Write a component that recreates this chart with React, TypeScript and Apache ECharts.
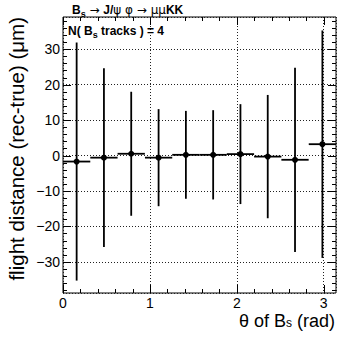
import React, { useEffect, useRef } from 'react';
import * as echarts from 'echarts';

// Histogram bins of theta (rad), 10 bins over [0, pi]
const binCenters = [0.157, 0.471, 0.785, 1.1, 1.414, 1.728, 2.042, 2.356, 2.67, 2.985];
const binHalfWidth = 0.157;
// Mean flight distance (rec-true) in um and its error
const meanValues = [-1.7, -0.6, 0.5, -0.6, 0.2, 0.2, 0.4, -0.3, -1.2, 3.2];
const errValues = [33.6, 25.2, 17.5, 13.7, 12.4, 12.6, 14.1, 17.4, 26.0, 32.1];

// Axis ticks
const xMajorTicks = [0, 1, 2, 3];
const xMinorTicks = [0.2, 0.4, 0.6, 0.8, 1.2, 1.4, 1.6, 1.8, 2.2, 2.4, 2.6, 2.8];
const yMajorTicks = [-30, -20, -10, 0, 10, 20, 30];
const yMinorTicks = [
  -38, -36, -34, -32, -28, -26, -24, -22, -18, -16, -14, -12, -8, -6, -4, -2,
  2, 4, 6, 8, 12, 14, 16, 18, 22, 24, 26, 28, 32, 34, 36, 38,
];

const X_MIN = 0;
const X_MAX = Math.PI;
const Y_MIN = -38.8;
const Y_MAX = 39.1;

const FONT = 'Liberation Sans, Arial, Helvetica, sans-serif';
const SYM = 'DejaVu Sans, Liberation Sans, sans-serif';

export default function App() {
  const ref = useRef<HTMLDivElement>(null);

  useEffect(() => {
    if (!ref.current) return;
    const chart = echarts.init(ref.current, null, { renderer: 'svg' });

    const px = (v: number) => Math.round(v) + 0.5;

    const xTickData = [
      ...xMajorTicks.map((v) => [v, 1]),
      ...xMinorTicks.map((v) => [v, 0]),
    ];
    const yTickData = [
      ...yMajorTicks.map((v) => [0.5, v, 1]),
      ...yMinorTicks.map((v) => [0.5, v, 0]),
    ];
    const pointData = binCenters.map((c, i) => [c, meanValues[i], errValues[i], binHalfWidth]);

    const minus = (v: number) => (v < 0 ? '\u2212' + Math.abs(v) : String(v));

    const option: any = {
      animation: false,
      backgroundColor: '#fff',
      grid: {
        left: 63,
        right: 18,
        top: 17,
        bottom: 48,
        show: true,
        borderColor: '#000',
        borderWidth: 1,
        backgroundColor: 'transparent',
      },
      xAxis: {
        type: 'value',
        min: X_MIN,
        max: X_MAX,
        minInterval: 1,
        maxInterval: 1,
        axisLine: { show: false },
        axisTick: { show: false },
        axisLabel: {
          show: true,
          showMaxLabel: false,
          color: '#000',
          fontFamily: FONT,
          fontSize: 14,
          lineHeight: 14,
          margin: 3,
          formatter: (v: number) => minus(v),
        },
        splitLine: { show: true, lineStyle: { color: '#222', width: 1, type: [1, 2] } },
      },
      yAxis: {
        type: 'value',
        min: Y_MIN,
        max: Y_MAX,
        minInterval: 10,
        maxInterval: 10,
        axisLine: { show: false },
        axisTick: { show: false },
        axisLabel: {
          show: true,
          showMinLabel: false,
          showMaxLabel: false,
          color: '#000',
          fontFamily: FONT,
          fontSize: 14,
          margin: 3,
          formatter: (v: number) => minus(v),
        },
        splitLine: { show: true, lineStyle: { color: '#222', width: 1, type: [1, 2] } },
      },
      series: [
        {
          type: 'custom',
          name: 'xticks',
          clip: false,
          silent: true,
          data: xTickData,
          encode: { x: 0, y: -1 },
          renderItem: (params: any, api: any) => {
            const cs = params.coordSys;
            const v = api.value(0);
            const len = api.value(1) ? 8 : 4;
            const x = px(api.coord([v, 0])[0]);
            const bottom = cs.y + cs.height;
            const top = cs.y;
            return {
              type: 'group',
              children: [
                { type: 'line', shape: { x1: x, y1: bottom, x2: x, y2: bottom - len }, style: { stroke: '#000', lineWidth: 1 } },
                { type: 'line', shape: { x1: x, y1: top, x2: x, y2: top + len }, style: { stroke: '#000', lineWidth: 1 } },
              ],
            };
          },
          z: 5,
        },
        {
          type: 'custom',
          name: 'yticks',
          clip: false,
          silent: true,
          data: yTickData,
          encode: { x: 0, y: 1 },
          renderItem: (params: any, api: any) => {
            const cs = params.coordSys;
            const v = api.value(1);
            const len = api.value(2) ? 8 : 4;
            const y = px(api.coord([0, v])[1]);
            const left = cs.x;
            const right = cs.x + cs.width;
            return {
              type: 'group',
              children: [
                { type: 'line', shape: { x1: left, y1: y, x2: left + len, y2: y }, style: { stroke: '#000', lineWidth: 1 } },
                { type: 'line', shape: { x1: right, y1: y, x2: right - len, y2: y }, style: { stroke: '#000', lineWidth: 1 } },
              ],
            };
          },
          z: 5,
        },
        {
          type: 'custom',
          name: 'points',
          clip: false,
          data: pointData,
          encode: { x: 0, y: 1 },
          renderItem: (params: any, api: any) => {
            const c = api.value(0);
            const m = api.value(1);
            const e = api.value(2);
            const hw = api.value(3);
            const pl = api.coord([c - hw, m]);
            const pr = api.coord([c + hw, m]);
            const pt = api.coord([c, m + e]);
            const pb = api.coord([c, m - e]);
            const pc = api.coord([c, m]);
            return {
              type: 'group',
              children: [
                { type: 'line', shape: { x1: pl[0], y1: pl[1], x2: pr[0], y2: pr[1] }, style: { stroke: '#000', lineWidth: 1.8 } },
                { type: 'line', shape: { x1: pt[0], y1: pt[1], x2: pb[0], y2: pb[1] }, style: { stroke: '#000', lineWidth: 1.8 } },
                { type: 'circle', shape: { cx: pc[0], cy: pc[1], r: 3 }, style: { fill: '#000' } },
              ],
            };
          },
          z: 10,
        },
      ],
      graphic: [
        {
          type: 'text',
          x: 72,
          y: 10,
          z: 20,
          style: {
            text: '{b|B}{sub|s}{sym| \u2192 }{b|J/}{sym|\u03c8 \u03c6 \u2192 \u03bc\u03bc}{b|KK}',
            align: 'left',
            verticalAlign: 'middle',
            fill: '#000',
            rich: {
              b: { fontFamily: FONT, fontSize: 12, fontWeight: 'bold', lineHeight: 16, fill: '#000' },
              sym: { fontFamily: SYM, fontSize: 12, fontWeight: 'normal', lineHeight: 16, fill: '#000' },
              sub: { fontFamily: FONT, fontSize: 9, fontWeight: 'bold', lineHeight: 8, verticalAlign: 'bottom', fill: '#000' },
            },
          },
        },
        {
          type: 'text',
          x: 68,
          y: 31,
          z: 20,
          style: {
            text: '{b|N( B}{sub|s}{b| tracks ) = 4}',
            align: 'left',
            verticalAlign: 'middle',
            fill: '#000',
            rich: {
              b: { fontFamily: FONT, fontSize: 12, fontWeight: 'bold', lineHeight: 16, fill: '#000' },
              sub: { fontFamily: FONT, fontSize: 9, fontWeight: 'bold', lineHeight: 8, verticalAlign: 'bottom', fill: '#000' },
            },
          },
        },
        {
          type: 'text',
          x: 335,
          y: 321,
          z: 20,
          style: {
            text: '{t|\u03b8 of B}{sub|s}{t| (rad)}',
            align: 'right',
            verticalAlign: 'middle',
            fill: '#000',
            rich: {
              t: { fontFamily: FONT, fontSize: 18, lineHeight: 16, fill: '#000' },
              sub: { fontFamily: FONT, fontSize: 12, lineHeight: 9, verticalAlign: 'bottom', fill: '#000' },
            },
          },
        },
        {
          type: 'text',
          x: 16,
          y: 17,
          rotation: Math.PI / 2,
          z: 20,
          style: {
            text: 'flight distance (rec-true) (\u03bcm)',
            align: 'right',
            verticalAlign: 'middle',
            fill: '#000',
            fontFamily: FONT,
            fontSize: 20.5,
          },
        },
      ],
    };

    chart.setOption(option);
    return () => chart.dispose();
  }, []);

  return (
    <div
      ref={ref}
      style={{ position: 'absolute', left: 0, top: 0, width: 354, height: 341, background: '#fff' }}
    />
  );
}
